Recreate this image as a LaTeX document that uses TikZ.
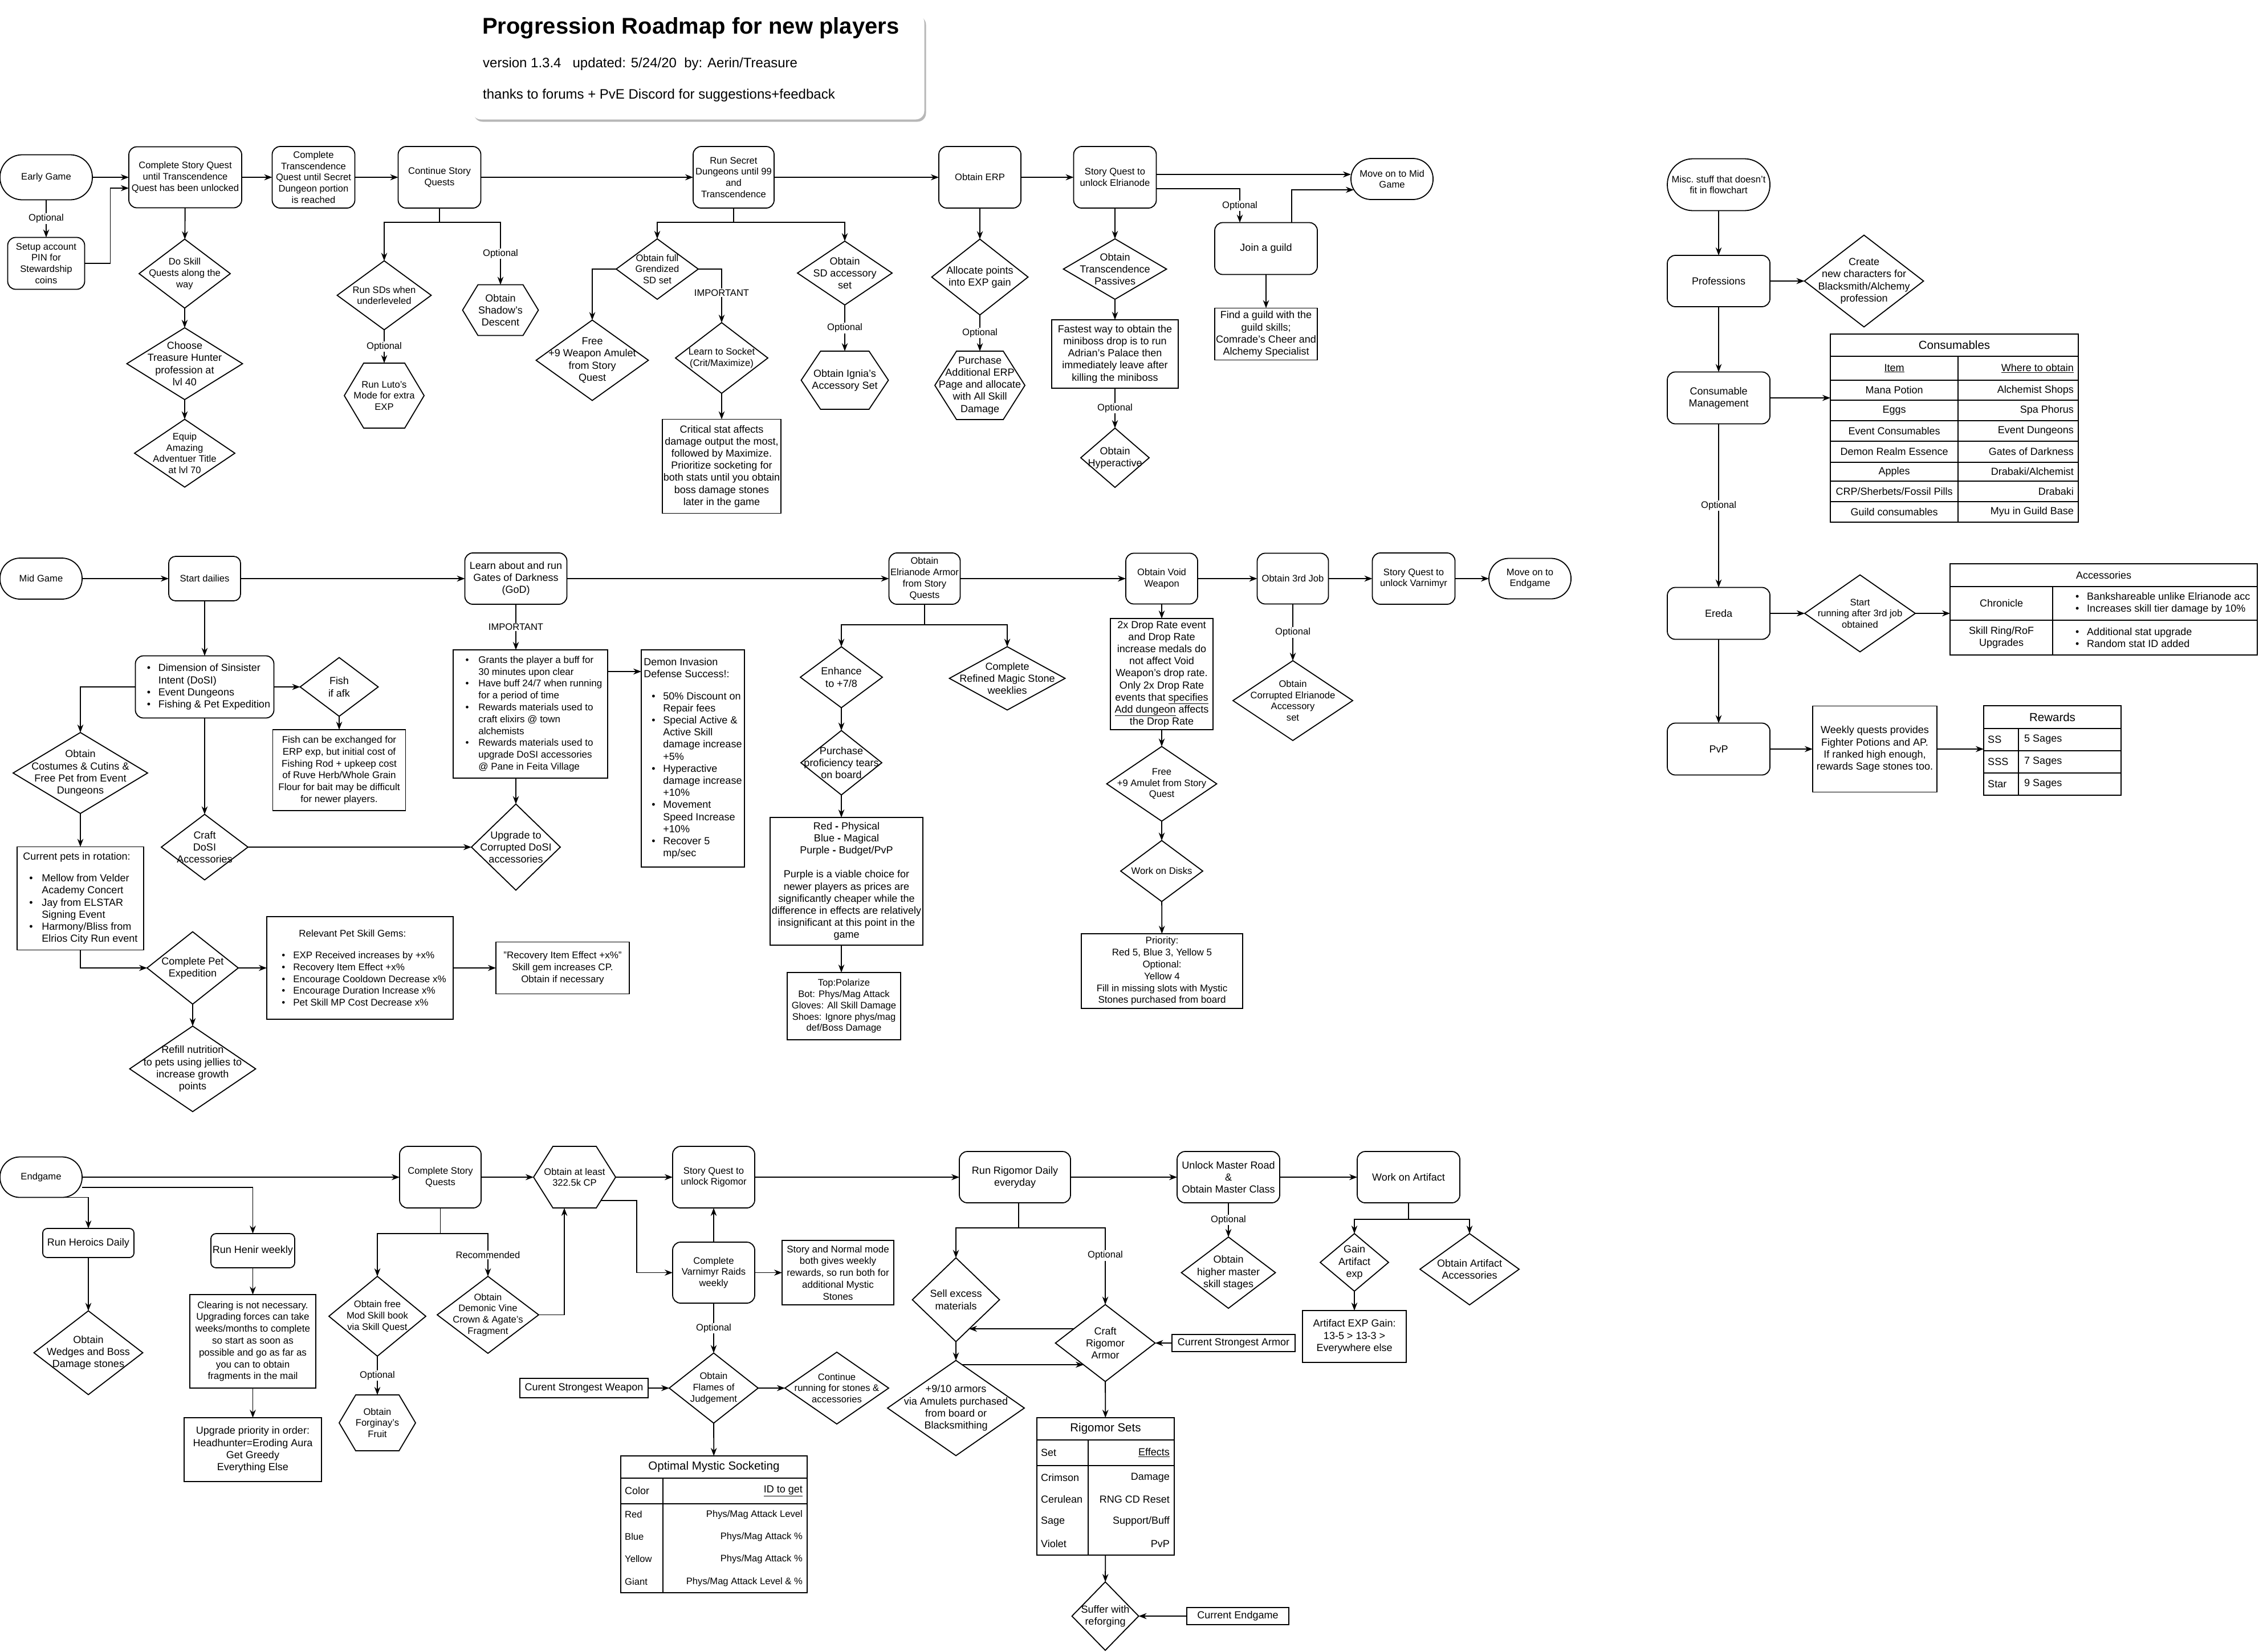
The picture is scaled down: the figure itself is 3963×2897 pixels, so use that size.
\documentclass[tikz,border=0pt]{standalone}
\usepackage{fontspec}
\setmainfont{Liberation Sans}
\usepackage{tikz}
\usetikzlibrary{positioning, arrows.meta, shapes.geometric, shadows}

\newcommand\fsA{\fontsize{16.6}{19.7}\selectfont}
\newcommand\fsB{\fontsize{18}{21.2}\selectfont}
\newcommand\fsM{\fontsize{17}{20.8}\selectfont}
\newcommand\fsH{\fontsize{20.5}{24}\selectfont}
\newcommand\fsT{\fontsize{40}{46}\selectfont\bfseries}
\newcommand\fsS{\fontsize{24}{28}\selectfont}
\newcommand\bu[1][34pt]{\makebox[#1][c]{\textbullet}}
\newcommand\bi[1][34pt]{\hspace*{#1}}
% hexagon round a (borderless) node
\newcommand\hexago[2]{\draw[line width=1.8pt] (#1.west) -- ([xshift=#2]#1.north west)
  -- ([xshift=-#2]#1.north east) -- (#1.east) -- ([xshift=-#2]#1.south east)
  -- ([xshift=#2]#1.south west) -- cycle;}

\tikzset{
  shp/.style={draw, line width=1.8pt, font=\fsB, align=center, inner sep=2pt, outer sep=0pt},
  sz/.style 2 args={minimum width=#1pt, minimum height=#2pt},
  rbox/.style={shp, rounded corners=14pt},
  pbox/.style={shp},
  term/.style={shp, rounded corners=#1},
  dia/.style={shp, diamond, inner sep=0pt},
  hexa/.style={shp, draw=none},
  txt/.style={font=\fsB, align=center, inner sep=0pt},
  sm/.style={font=\fsA},
  md/.style={font=\fsM},
  lbl/.style={fill=white, font=\fsA, inner sep=1.5pt},
  arr/.style={line width=1.9pt, -{Stealth[length=14pt, width=10.5pt]}},
  ln/.style={line width=1.9pt},
}

\begin{document}
\begin{tikzpicture}[x=1pt, y=-1pt]
  \path[use as bounding box, fill=white] (0,0) rectangle (3963,2897);

  % title
  \node[fill=white, rounded corners=15pt, sz={793}{185},
    drop shadow={shadow xshift=3pt, shadow yshift=-4pt, fill=black!40, opacity=0.7}] (tbox) at (1225,117) {};
  \node[anchor=west, font=\fsT, inner sep=0pt] (ttl) at (846,49) {Progression Roadmap for new players};
  \node[anchor=west, font=\fsS, inner sep=0pt] (ver) at (847,112) {version 1.3.4~~~updated: 5/24/20~~by: Aerin/Treasure};
  \node[anchor=west, font=\fsS, inner sep=0pt] (thx) at (847,167) {thanks to forums + PvE Discord for suggestions+feedback};

  % early game
  \node[term=39pt, sz={162}{79}, sm] (early) at (81,311) {Early Game};
  \node[rbox, sz={135}{91}, sm] (pin) at (81,462) {Setup account\\PIN for\\Stewardship\\coins};
  \node[rbox, sz={198}{107}, sm] (csq) at (325,311) {Complete Story Quest\\until Transcendence\\Quest has been unlocked};
  \node[rbox, sz={145}{108}, sm] (ctq) at (550,311) {Complete\\Transcendence\\Quest until Secret\\Dungeon portion\\is reached};
  \node[rbox, sz={145}{108}, sm] (cont) at (771,311) {Continue Story\\Quests};
  \node[rbox, sz={142}{108}, sm] (rsd) at (1287,311) {Run Secret\\Dungeons until 99\\and\\Transcendence};
  \node[rbox, sz={144}{108}, sm] (erp) at (1719,311) {Obtain ERP};
  \node[rbox, sz={145}{108}, sm] (sqe) at (1956,311) {Story Quest to\\unlock Elrianode};
  \node[term=35.5pt, sz={144}{72}, sm] (tomid) at (2442,314) {Move on to Mid\\Game};
  \node[rbox, sz={180}{91}] (guild) at (2221,436) {Join a guild};
  \node[pbox, sz={180}{91}, inner xsep=0pt] (findg) at (2221,586) {Find a guild with the\\guild skills;\\Comrade's Cheer and\\Alchemy Specialist};

  \node[dia, sz={160}{121}, label={[txt,sm]center:Do Skill\\Quests along the\\way}] (dsq) at (324,480) {};
  \node[dia, sz={203}{126}, label={[txt]center:Choose\\Treasure Hunter\\profession at\\lvl 40}] (cth) at (324,638) {};
  \node[dia, sz={176}{119}, label={[txt,sm]center:Equip\\Amazing\\Adventuer Title\\at lvl 70}] (equip) at (324,795) {};
  \node[dia, sz={165}{121}, label={[txt,sm]center:Run SDs when\\underleveled}] (rsdw) at (674,518) {};
  \node[hexa, sz={140}{114}, sm] (luto) at (674,694) {Run Luto's\\Mode for extra\\EXP}; \hexago{luto}{34pt}
  \node[hexa, sz={133}{89}] (shadow) at (878,544) {Obtain\\Shadow's\\Descent}; \hexago{shadow}{27pt}
  \node[dia, sz={144}{106}, label={[txt,sm]center:Obtain full\\Grendized\\SD set}] (grend) at (1153,472) {};
  \node[dia, sz={197}{141}, label={[txt]center:Free\\+9 Weapon Amulet\\from Story\\Quest}] (free9) at (1039,632) {};
  \node[dia, sz={162}{124}, label={[txt,sm]center:Learn to Socket\\(Crit/Maximize)}] (sock) at (1266,628) {};
  \node[pbox, sz={208}{165}, inner xsep=0pt] (crit) at (1266,818) {Critical stat affects\\damage output the most,\\followed by Maximize.\\Prioritize socketing for\\both stats until you obtain\\boss damage stones\\later in the game};
  \node[dia, sz={166}{112}, label={[txt]center:Obtain\\SD accessory\\set}] (sdacc) at (1482,479) {};
  \node[hexa, sz={153}{102}] (ignia) at (1482,667) {Obtain Ignia's\\Accessory Set}; \hexago{ignia}{34pt}
  \node[dia, sz={169}{133}, label={[txt]center:Allocate points\\into EXP gain}] (alloc) at (1719,486) {};
  \node[hexa, sz={158}{120}] (perp) at (1719,676) {Purchase\\Additional ERP\\Page and allocate\\with All Skill\\Damage}; \hexago{perp}{38pt}
  \node[dia, sz={181}{106}, label={[txt]center:Obtain\\Transcendence\\Passives}] (otp) at (1956,472) {};
  \node[pbox, sz={222}{120}] (fast) at (1956,621) {Fastest way to obtain the\\miniboss drop is to run\\Adrian's Palace then\\immediately leave after\\killing the miniboss};
  \node[dia, sz={120}{104}, label={[txt]center:Obtain\\Hyperactive}] (hyper) at (1956,803) {};
  \coordinate (contfork) at (771,390);
  \coordinate (rsdfork) at (1287,390);

  \draw[arr] (early) -- (csq);
  \draw[arr] (early) -- node[lbl]{Optional} (pin);
  \draw[arr] (pin.east) -- ++(45,0) |- ([yshift=-19pt]csq.west);
  \draw[arr] (csq) -- (ctq);
  \draw[arr] (ctq) -- (cont);
  \draw[arr] (cont) -- (rsd);
  \draw[arr] (rsd) -- (erp);
  \draw[arr] (erp) -- (sqe);
  \draw[arr] ([yshift=5pt]sqe.east) -- ([yshift=5pt]sqe.east -| tomid.west);
  \draw[arr] ([yshift=-20pt]sqe.east) -| node[lbl, pos=0.75]{Optional} ([xshift=-46pt]guild.north);
  \draw[arr] ([xshift=45pt]guild.north) |- ([shift={(5pt,-19pt)}]tomid.west);
  \draw[arr] (guild) -- (findg);
  \draw[arr] (csq) -- (dsq);
  \draw[arr] (dsq) -- (cth);
  \draw[arr] (cth) -- (equip);
  \draw[ln] (cont) -- (contfork);
  \draw[arr] (contfork) -| (rsdw.north);
  \draw[arr] (contfork) -| node[lbl, pos=0.75]{Optional} (shadow.north);
  \draw[arr] (rsdw) -- node[lbl]{Optional} (luto);
  \draw[ln] (rsd) -- (rsdfork);
  \draw[arr] (rsdfork) -| (grend.north);
  \draw[arr] (rsdfork) -| (sdacc.north);
  \draw[arr] (grend.west) -| (free9.north);
  \draw[arr] (grend.east) -| node[lbl, pos=0.72]{IMPORTANT} (sock.north);
  \draw[arr] (sock) -- (crit);
  \draw[arr] (sdacc) -- node[lbl]{Optional} (ignia);
  \draw[arr] (erp) -- (alloc);
  \draw[arr] (alloc) -- node[lbl]{Optional} (perp);
  \draw[arr] (sqe) -- (otp);
  \draw[arr] (otp) -- (fast);
  \draw[arr] (fast) -- node[lbl]{Optional} (hyper);

  % misc column
  \node[term=45pt, sz={180}{91}, sm] (misc) at (3015,324) {Misc.\ stuff that doesn't\\fit in flowchart};
  \node[rbox, sz={180}{90}] (prof) at (3015,493) {Professions};
  \node[dia, sz={209}{161}, label={[txt]center:Create\\new characters for\\Blacksmith/Alchemy\\profession}] (newch) at (3270,493) {};
  \node[rbox, sz={180}{91}] (cmgmt) at (3015,698) {Consumable\\Management};
  \node[pbox, sz={435}{330}] (constab) at (3428.5,751) {};
  \draw[ln] (3211,625) -- (3646,625);
  \foreach \y in {667,702,738,774,811,844,880} \draw[ln] (3211,\y) -- (3646,\y);
  \draw[ln] (3435,625) -- (3435,916);
  \node[txt, font=\fsH] (cons-t) at (3428.5,605.5) {Consumables};
  \node[txt] (cons-h1) at (3323,646) {\underline{Item}};
  \node[txt, anchor=east] (cons-h2) at (3638,646) {\underline{Where to obtain}};
  \foreach \y/\itm/\src [count=\i] in {684.5/Mana Potion/Alchemist Shops,
    720/Eggs/Spa Phorus,
    756/Event Consumables/Event Dungeons,
    792.5/Demon Realm Essence/Gates of Darkness,
    827.5/Apples/{Drabaki/Alchemist},
    862/{CRP/Sherbets/Fossil Pills}/Drabaki,
    898/Guild consumables/Myu in Guild Base}{
    \node[txt] (cons-\i-a) at (3323,\y) {\itm};
    \node[txt, anchor=east] (cons-\i-b) at (3638,\y) {\src};
  }
  \node[rbox, sz={180}{91}] (ereda) at (3015,1076) {Ereda};
  \node[dia, sz={194}{135}, label={[txt,sm]center:Start\\running after 3rd job\\obtained}] (start3) at (3263,1076) {};
  \node[pbox, sz={539}{160}] (acctab) at (3690.5,1069) {};
  \draw[ln] (3421,1029) -- (3960,1029);
  \draw[ln] (3421,1088) -- (3960,1088);
  \draw[ln] (3601,1029) -- (3601,1149);
  \node[txt] (acc-t) at (3690.5,1009) {Accessories};
  \node[txt] (acc-1a) at (3511,1058.5) {Chronicle};
  \node[txt, align=left, anchor=west] (acc-1b) at (3627,1058.5) {\bu Bankshareable unlike Elrianode acc\\\bu Increases skill tier damage by 10\%};
  \node[txt] (acc-2a) at (3511,1118.5) {Skill Ring/RoF\\Upgrades};
  \node[txt, align=left, anchor=west] (acc-2b) at (3627,1118.5) {\bu Additional stat upgrade\\\bu Random stat ID added};
  \node[rbox, sz={180}{91}] (pvp) at (3015,1314) {PvP};
  \node[pbox, sz={218}{151}] (weekly) at (3289,1314) {Weekly quests provides\\Fighter Potions and AP.\\If ranked high enough,\\rewards Sage stones too.};
  \node[pbox, sz={241}{157}] (rewtab) at (3600.5,1316.5) {};
  \foreach \y in {1278,1317,1356} \draw[ln] (3480,\y) -- (3721,\y);
  \draw[ln] (3541,1278) -- (3541,1395);
  \node[txt, font=\fsH] (rew-t) at (3600.5,1258) {Rewards};
  \foreach \y/\itm/\src [count=\i] in {1297.5/SS/5 Sages,1336.5/SSS/7 Sages,1375.5/Star/9 Sages}{
    \node[txt, anchor=west] (rew-\i-a) at (3487,\y) {\itm};
    \node[txt, anchor=west] (rew-\i-b) at (3551,\y) {\src};
  }

  \draw[arr] (misc) -- (prof);
  \draw[arr] (prof) -- (newch);
  \draw[arr] (prof) -- (cmgmt);
  \draw[arr] (cmgmt.east) -- (cmgmt.east -| constab.west);
  \draw[arr] (cmgmt) -- node[lbl]{Optional} (ereda);
  \draw[arr] (ereda) -- (start3);
  \draw[arr] (start3.east) -- (start3.east -| acctab.west);
  \draw[arr] (ereda) -- (pvp);
  \draw[arr] (pvp) -- (weekly);
  \draw[arr] (weekly.east) -- (weekly.east -| rewtab.west);

  % mid game
  \node[term=35.5pt, sz={144}{72}, sm] (midg) at (72,1015) {Mid Game};
  \node[rbox, sz={126}{78}, sm, rounded corners=12pt] (daily) at (359,1015) {Start dailies};
  \node[rbox, sz={179}{90}] (god) at (905,1015) {Learn about and run\\Gates of Darkness\\(GoD)};
  \node[rbox, sz={125}{90}, sm] (elri) at (1622,1015) {Obtain\\Elrianode Armor\\from Story\\Quests};
  \node[rbox, sz={126}{89}, sm] (void) at (2038,1015) {Obtain Void\\Weapon};
  \node[rbox, sz={125}{89}, sm] (job3) at (2268,1015) {Obtain 3rd Job};
  \node[rbox, sz={145}{90}, sm] (sqv) at (2480,1015) {Story Quest to\\unlock Varnimyr};
  \node[term=35pt, sz={144}{71}, sm] (toend) at (2684,1015) {Move on to\\Endgame};

  \node[rbox, sz={243}{109}, align=left] (dosi) at (359,1205) {\bu Dimension of Sinsister\\\bi Intent (DoSI)\\\bu Event Dungeons\\\bu Fishing \& Pet Expedition};
  \node[dia, sz={137}{103}, label={[txt]center:Fish\\if afk}] (fish) at (595,1205) {};
  \node[pbox, sz={233}{142}, md] (fishx) at (595,1351) {Fish can be exchanged for\\ERP exp, but initial cost of\\Fishing Rod + upkeep cost\\of Ruve Herb/Whole Grain\\Flour for bait may be difficult\\for newer players.};
  \node[dia, sz={236}{142}, label={[txt]center:Obtain\\Costumes \& Cutins \&\\Free Pet from Event\\Dungeons}] (cost) at (141,1356) {};
  \node[dia, sz={152}{115}, label={[txt]center:Craft\\DoSI\\Accessories}] (craftd) at (359,1486) {};
  \node[pbox, sz={222}{181}, align=left] (pets) at (141,1576) {Current pets in rotation:\\[17pt]\bu[28pt] Mellow from Velder\\\bi[28pt] Academy Concert\\\bu[28pt] Jay from ELSTAR\\\bi[28pt] Signing Event\\\bu[28pt] Harmony/Bliss from\\\bi[28pt] Elrios City Run event};
  \node[pbox, sz={271}{225}, align=left, md] (buff) at (930.5,1252.5) {\bu[30pt] Grants the player a buff for\\\bi[30pt] 30 minutes upon clear\\\bu[30pt] Have buff 24/7 when running\\\bi[30pt] for a period of time\\\bu[30pt] Rewards materials used to\\\bi[30pt] craft elixirs @ town\\\bi[30pt] alchemists\\\bu[30pt] Rewards materials used to\\\bi[30pt] upgrade DoSI accessories\\\bi[30pt] @ Pane in Feita Village};
  \node[pbox, sz={181}{381}, align=left, inner xsep=0pt] (demon) at (1215.5,1330.5) {Demon Invasion\\Defense Success!:\\[17pt]\bu 50\% Discount on\\\bi Repair fees\\\bu Special Active \&\\\bi Active Skill\\\bi damage increase\\\bi +5\%\\\bu Hyperactive\\\bi damage increase\\\bi +10\%\\\bu Movement\\\bi Speed Increase\\\bi +10\%\\\bu Recover 5\\\bi mp/sec};
  \node[dia, sz={156}{151}, label={[txt]center:Upgrade to\\Corrupted DoSI\\accessories}] (upg) at (905,1486) {};
  \node[dia, sz={160}{127}, label={[txt]center:Complete Pet\\Expedition}] (cpe) at (338,1698) {};
  \node[pbox, sz={327}{180}, align=left, md] (gems) at (631.5,1698) {\hspace*{44pt}Relevant Pet Skill Gems:\\[17pt]\bu EXP Received increases by +x\%\\\bu Recovery Item Effect +x\%\\\bu Encourage Cooldown Decrease x\%\\\bu Encourage Duration Increase x\%\\\bu Pet Skill MP Cost Decrease x\%};
  \node[pbox, sz={234}{91}, md] (recov) at (987,1698) {"Recovery Item Effect +x\%"\\Skill gem increases CP.\\Obtain if necessary};
  \node[dia, sz={221}{150}, label={[txt]center:Refill nutrition\\to pets using jellies to\\increase growth\\points}] (refill) at (338,1875) {};

  \node[dia, sz={144}{107}, label={[txt]center:Enhance\\to +7/8}] (enh) at (1476,1188) {};
  \node[dia, sz={203}{111}, label={[txt]center:Complete\\Refined Magic Stone\\weeklies}] (refined) at (1767,1190) {};
  \node[dia, sz={142}{113}, label={[txt]center:Purchase\\proficiency tears\\on board}] (prof2) at (1476,1338) {};
  \node[pbox, sz={268}{224}, inner xsep=0pt] (color) at (1485,1546) {Red \textbf{-} Physical\\Blue \textbf{-} Magical\\Purple \textbf{-} Budget/PvP\\[21pt]Purple is a viable choice for\\newer players as prices are\\significantly cheaper while the\\difference in effects are relatively\\insignificant at this point in the\\game};
  \node[pbox, sz={199}{118}, sm] (polar) at (1480.5,1765) {Top:Polarize\\Bot: Phys/Mag Attack\\Gloves: All Skill Damage\\Shoes: Ignore phys/mag\\def/Boss Damage};
  \node[pbox, sz={180}{195}, inner ysep=0pt] (drop) at (2038,1182.5) {2x Drop Rate event\\and Drop Rate\\increase medals do\\not affect Void\\Weapon's drop rate.\\Only 2x Drop Rate\\events that \underline{specifies}\\\underline{Add dungeon} affects\\the Drop Rate};
  \node[dia, sz={193}{131}, label={[txt,sm]center:Free\\+9 Amulet from Story\\Quest}] (amu) at (2038,1375) {};
  \node[dia, sz={144}{107}, label={[txt,sm]center:Work on Disks}] (disks) at (2038,1528) {};
  \node[pbox, sz={283}{131}, md] (prio) at (2038.5,1703.5) {Priority:\\Red 5, Blue 3, Yellow 5\\Optional:\\Yellow 4\\Fill in missing slots with Mystic\\Stones purchased from board};
  \node[dia, sz={210}{140}, label={[txt,sm]center:Obtain\\Corrupted Elrianode\\Accessory\\set}] (corr) at (2268,1229) {};
  \coordinate (elrifork) at (1622,1096);

  \draw[arr] (midg) -- (daily);
  \draw[arr] (daily) -- (god);
  \draw[arr] (god) -- (elri);
  \draw[arr] (elri) -- (void);
  \draw[arr] (void) -- (job3);
  \draw[arr] (job3) -- (sqv);
  \draw[arr] (sqv) -- (toend);
  \draw[arr] (daily) -- (dosi);
  \draw[arr] (dosi) -- (fish);
  \draw[arr] (fish) -- (fishx);
  \draw[arr] (dosi.west) -| (cost.north);
  \draw[arr] (dosi) -- (craftd);
  \draw[arr] (cost) -- (pets);
  \draw[arr] (craftd) -- (upg);
  \draw[arr] (god) -- node[lbl]{IMPORTANT} (god |- buff.north);
  \draw[arr] (buff.south -| upg) -- (upg);
  \draw[arr] ([yshift=-38pt]buff.north east) -- ([yshift=-38pt]buff.north east -| demon.west);
  \draw[arr] (pets.south) |- (cpe.west);
  \draw[arr] (cpe) -- (gems);
  \draw[arr] (gems) -- (recov);
  \draw[arr] (cpe) -- (refill);
  \draw[ln] (elri) -- (elrifork);
  \draw[arr] (elrifork) -| (enh.north);
  \draw[arr] (elrifork) -| (refined.north);
  \draw[arr] (enh) -- (prof2);
  \draw[arr] (prof2) -- (prof2 |- color.north);
  \draw[arr] (prof2 |- color.south) -- (prof2 |- polar.north);
  \draw[arr] (void) -- (drop);
  \draw[arr] (drop) -- (amu);
  \draw[arr] (amu) -- (disks);
  \draw[arr] (disks) -- (prio);
  \draw[arr] (job3) -- node[lbl]{Optional} (corr);

  % endgame
  \node[term=35pt, sz={144}{71}, sm] (endg) at (72,2065) {Endgame};
  \node[rbox, sz={143}{108}, sm] (csq2) at (772.5,2065) {Complete Story\\Quests};
  \node[hexa, sz={144}{108}, sm] (cp) at (1008,2065) {Obtain at least\\322.5k CP}; \hexago{cp}{34pt}
  \node[rbox, sz={144}{108}, sm] (sqr) at (1252,2065) {Story Quest to\\unlock Rigomor};
  \node[rbox, sz={195}{90}] (rrd) at (1780.5,2065) {Run Rigomor Daily\\everyday};
  \node[rbox, sz={180}{90}] (mroad) at (2155,2065) {Unlock Master Road\\\&\\Obtain Master Class};
  \node[rbox, sz={180}{90}] (art) at (2471,2065) {Work on Artifact};
  \node[rbox, sz={160}{51}, rounded corners=8pt] (heroic) at (155,2180.5) {Run Heroics Daily};
  \node[dia, sz={191}{147}, label={[txt]center:Obtain\\Wedges and Boss\\Damage stones}] (wedge) at (155,2373) {};
  \node[rbox, sz={147}{60}, rounded corners=9pt] (henir) at (443.5,2194) {Run Henir weekly};
  \node[pbox, sz={221}{164}, md] (clear) at (443.5,2353) {Clearing is not necessary.\\Upgrading forces can take\\weeks/months to complete\\so start as soon as\\possible and go as far as\\you can to obtain\\fragments in the mail};
  \node[pbox, sz={241}{112}] (upgp) at (443.5,2543) {Upgrade priority in order:\\Headhunter=Eroding Aura\\Get Greedy\\Everything Else};
  \node[dia, sz={170}{140}, label={[txt,sm]center:Obtain free\\Mod Skill book\\via Skill Quest}] (mod) at (662,2309) {};
  \node[hexa, sz={134}{98}, sm] (forg) at (662,2496) {Obtain\\Forginay's\\Fruit}; \hexago{forg}{29pt}
  \node[dia, sz={178}{135}, label={[txt,sm]center:Obtain\\Demonic Vine\\Crown \& Agate's\\Fragment}] (demv) at (856,2306.5) {};
  \node[rbox, sz={144}{107}, sm] (varn) at (1252,2232.5) {Complete\\Varnimyr Raids\\weekly};
  \node[pbox, sz={196}{113}, md] (sn) at (1470,2232.5) {Story and Normal mode\\both gives weekly\\rewards, so run both for\\additional Mystic\\Stones};
  \node[dia, sz={156}{123}, label={[txt,sm]center:Obtain\\Flames of\\Judgement}] (flame) at (1252,2435) {};
  \node[pbox, sz={225}{34}] (cweap) at (1024.5,2435) {Curent Strongest Weapon};
  \node[dia, sz={182}{126}, label={[txt,sm]center:Continue\\running for stones \&\\accessories}] (contr) at (1468,2435) {};
  \node[pbox, sz={327}{240}] (omstab) at (1252.5,2674) {};
  \draw[ln] (1089,2593) -- (1416,2593);
  \draw[ln] (1089,2638) -- (1416,2638);
  \draw[ln] (1163,2593) -- (1163,2794);
  \node[txt, font=\fsH] (oms-t) at (1252.5,2573.5) {Optimal Mystic Socketing};
  \node[txt, anchor=west] (oms-h1) at (1096,2615.5) {Color};
  \node[txt, anchor=east] (oms-h2) at (1408,2615.5) {\underline{ID to get}};
  \foreach \y/\itm/\src [count=\i] in {2657/Red/{Phys/Mag Attack Level},
    2696/Blue/{Phys/Mag Attack \%},
    2735/Yellow/{Phys/Mag Attack \%},
    2775/Giant/{Phys/Mag Attack Level \& \%}}{
    \node[txt, sm, anchor=west] (oms-\i-a) at (1096,\y) {\itm};
    \node[txt, sm, anchor=east] (oms-\i-b) at (1408,\y) {\src};
  }
  \node[dia, sz={153}{147}, label={[txt]center:Sell excess\\materials}] (sell) at (1677,2280) {};
  \node[dia, sz={240}{167}, label={[txt]center:+9/10 armors\\via Amulets purchased\\from board or\\Blacksmithing}] (arm) at (1677,2470) {};
  \node[dia, sz={175}{135}, label={[txt]center:Craft\\Rigomor\\Armor}] (craft) at (1939,2356) {};
  \node[pbox, sz={216}{30}] (carmor) at (2164,2356) {Current Strongest Armor};
  \node[pbox, sz={241}{241}] (rstab) at (1939.5,2607.5) {};
  \draw[ln] (1819,2526) -- (2060,2526);
  \draw[ln] (1819,2571) -- (2060,2571);
  \draw[ln] (1909,2526) -- (1909,2728);
  \node[txt, font=\fsH] (rs-t) at (1939.5,2506.5) {Rigomor Sets};
  \node[txt, anchor=west] (rs-h1) at (1826,2548.5) {Set};
  \node[txt, anchor=east] (rs-h2) at (2052,2548.5) {\underline{Effects}};
  \foreach \y/\itm/\src [count=\i] in {2592/Crimson/Damage,
    2630/Cerulean/RNG CD Reset,
    2669/Sage/{Support/Buff},
    2708/Violet/PvP}{
    \node[txt, anchor=west] (rs-\i-a) at (1826,\y) {\itm};
    \node[txt, anchor=east] (rs-\i-b) at (2052,\y) {\src};
  }
  \node[dia, sz={117}{120}, label={[txt]center:Suffer with\\reforging}] (suffer) at (1939,2835) {};
  \node[pbox, sz={179}{30}] (cend) at (2171.5,2835) {Current Endgame};
  \node[dia, sz={165}{125}, label={[txt]center:Obtain\\higher master\\skill stages}] (hms) at (2155,2232.5) {};
  \node[dia, sz={120}{101}, label={[txt]center:Gain\\Artifact\\exp}] (gae) at (2376,2214.5) {};
  \node[dia, sz={174}{125}, label={[txt]center:Obtain Artifact\\Accessories}] (oaa) at (2578,2226.5) {};
  \node[pbox, sz={182}{91}] (aexp) at (2376,2344.5) {Artifact EXP Gain:\\13-5 > 13-3 >\\Everywhere else};
  \coordinate (csqfork) at (772.5,2164);
  \coordinate (rrdfork) at (1787,2154);
  \coordinate (artfork) at (2471,2139);

  \draw[arr] (endg) -- (csq2);
  \draw[arr] ([yshift=-18pt]endg.east) -| (henir.north);
  \draw[arr] ([xshift=36pt]endg.south) -| (heroic.north);
  \draw[arr] (heroic) -- (wedge);
  \draw[arr] (henir) -- (clear);
  \draw[arr] (clear) -- (upgp);
  \draw[ln] (csq2) -- (csqfork);
  \draw[arr] (csqfork) -| (mod.north);
  \draw[arr] (csqfork) -| node[lbl, pos=0.75]{Recommended} (demv.north);
  \draw[arr] (mod) -- node[lbl]{Optional} (forg);
  \draw[arr] (demv.east) -| ([xshift=-18pt]cp.south);
  \draw[arr] (csq2) -- (cp);
  \draw[arr] (cp) -- (sqr);
  \draw[arr] ([shift={(-26pt,-41pt)}]cp.east) -- ++(63,0) |- (varn.west);
  \draw[arr] (varn) -- (sqr);
  \draw[arr] (varn) -- (sn);
  \draw[arr] (varn) -- node[lbl]{Optional} (flame);
  \draw[arr] (cweap) -- (flame);
  \draw[arr] (flame) -- (contr);
  \draw[arr] (flame) -- (omstab);
  \draw[arr] (sqr) -- (rrd);
  \draw[arr] (rrd) -- (mroad);
  \draw[arr] (mroad) -- (art);
  \draw[ln] (rrd.south -| rrdfork) -- (rrdfork);
  \draw[arr] (rrdfork) -| (sell.north);
  \draw[arr] (rrdfork) -| node[lbl, pos=0.68]{Optional} (craft.north);
  \draw[arr] ([shift={(-55pt,25pt)}]craft.center) -- ([shift={(23pt,-51pt)}]sell.center);
  \draw[arr] (sell) -- (arm);
  \draw[arr] ([shift={(11pt,76pt)}]arm.center) -- ([shift={(-38pt,-38pt)}]craft.center);
  \draw[arr] (carmor) -- (craft);
  \draw[arr] (craft) -- (rstab);
  \draw[arr] (rstab) -- (suffer);
  \draw[arr] (cend) -- (suffer);
  \draw[arr] (mroad) -- node[lbl]{Optional} (hms);
  \draw[ln] (art) -- (artfork);
  \draw[arr] (artfork) -| (gae.north);
  \draw[arr] (artfork) -| (oaa.north);
  \draw[arr] (gae) -- (aexp);
\end{tikzpicture}
\end{document}
